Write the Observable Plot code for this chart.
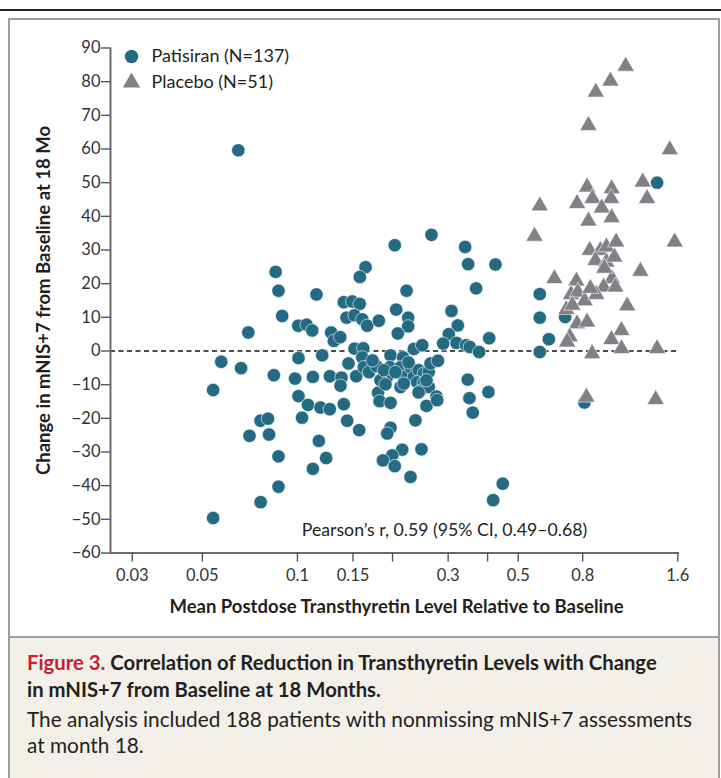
<!DOCTYPE html>
<html>
<head>
<meta charset="utf-8">
<script src="https://cdn.jsdelivr.net/npm/d3@7"></script>
<script src="https://cdn.jsdelivr.net/npm/@observablehq/plot@0.6"></script>
<style>
  html, body { margin: 0; padding: 0; background: #fff; }
  #wrap { position: relative; width: 721px; height: 778px; overflow: hidden; font-family: Lato, "Open Sans", sans-serif; color: #231f20; }
  #rule { position: absolute; left: 0; top: 9px; width: 721px; height: 2px; background: #231f20; }
  #box { position: absolute; left: 8px; top: 18px; width: 712px; height: 780px; border: 2px solid #9d9d9d; box-sizing: border-box; }
  #chart { position: absolute; left: 0; top: 0; }
  #caption { position: absolute; left: 10px; top: 636px; width: 708px; height: 150px; background: #f3f0ea; border-top: 2px solid #9d9d9d; box-sizing: border-box; padding: 11px 0 0 17px; }
  #caption .title { font-weight: 700; font-size: 20.3px; line-height: 26.5px; color: #231f20; }
  #caption .title .fig { color: #c8202f; }
  #caption .desc { font-size: 20.8px; line-height: 26px; margin-top: 4px; color: #231f20; }
</style>
</head>
<body>
<div id="wrap">
  <div id="rule"></div>
  <div id="box"></div>
  <div id="chart"></div>
  <div id="caption"></div>
</div>
<script>
// ---- Data ----
const seriesNames = ["Patisiran (N=137)", "Placebo (N=51)"];

// [mean postdose TTR relative to baseline, change in mNIS+7 at 18 mo]
const patisiranPoints = [
  [0.065,59.6],[0.0853,23.5],[0.0871,17.9],[0.0895,10.4],[0.0699,5.5],[0.1006,7.5],[0.1069,7.8],[0.1114,6.1],
  [0.0574,-3.2],[0.0663,-5.1],[0.0541,-11.6],[0.0842,-7.2],[0.1008,-2.1],[0.0983,-8.2],[0.1119,-7.7],[0.1008,-13.4],
  [0.108,-16.0],[0.0764,-20.7],[0.0807,-20.1],[0.1034,-19.8],[0.0705,-25.2],[0.0813,-24.8],[0.0871,-31.3],[0.0871,-40.3],
  [0.0765,-44.9],[0.0541,-49.6],
  [0.1149,16.8],[0.1198,-1.3],[0.1183,-16.8],[0.1266,-17.3],[0.1169,-26.7],[0.1233,-31.8],[0.1119,-35.0],[0.1402,-15.8],
  [0.1437,-20.7],[0.1569,-23.5],[0.1279,5.5],[0.1304,3.0],[0.1366,4.1],[0.1267,-7.5],[0.1379,-7.9],[0.1369,-10.3],[0.1535,-7.5],
  [0.1643,24.9],[0.1576,22.0],[0.1402,14.5],[0.1491,14.7],[0.1575,14.0],[0.143,9.9],[0.1516,10.6],[0.1604,9.4],
  [0.1663,7.5],[0.181,9.0],[0.1516,0.7],[0.1616,0.8],[0.1604,-1.9],[0.1623,-4.8],[0.1685,-6.3],[0.178,-4.5],
  [0.18,-12.4],[0.182,-14.9],[0.1971,-15.4],
  [0.2033,31.4],[0.2215,17.9],[0.2054,12.3],[0.2242,9.9],[0.2242,7.3],[0.2078,5.2],[0.2336,0.6],[0.2483,1.7],
  [0.1971,-1.3],[0.2159,-1.9],[0.1961,-4.8],[0.1921,-7.7],[0.1832,-8.7],[0.19,-9.9],[0.1877,-5.7],[0.212,-4.8],
  [0.2171,-7.7],[0.228,-4.8],[0.2336,-7.7],[0.2422,-5.7],[0.2512,-6.7],[0.2394,-9.3],[0.2512,-9.3],[0.2605,-6.2],
  [0.2638,-3.7],[0.2785,-2.9],[0.212,-10.7],[0.2452,-11.8],[0.2605,-10.7],[0.2755,-13.5],[0.2562,-16.3],[0.2364,-20.6],
  [0.1971,-22.8],[0.1924,-24.5],[0.2146,-29.3],[0.1995,-31.0],[0.1865,-32.5],[0.2033,-34.2],[0.247,-29.2],[0.228,-37.4],
  [0.2657,34.5],[0.3396,30.9],[0.3471,25.8],[0.4236,25.7],[0.3679,18.6],[0.3074,11.9],[0.3219,7.6],[0.3014,5.0],
  [0.2893,2.2],[0.3188,2.4],[0.3421,1.7],[0.3512,1.2],[0.376,-0.3],[0.4046,3.8],[0.3461,-8.5],[0.3504,-14.0],
  [0.4025,-12.2],[0.3589,-18.3],[0.2769,-14.6],[0.4467,-39.4],[0.4165,-44.3],
  [0.585,16.9],[0.585,9.9],[0.704,10.1],[0.625,3.5],[0.585,-0.3],[0.81,-15.3],[1.376,50.0],
  [0.2171,-9.7],[0.2043,-6.3],[0.2247,-3.4],[0.1729,-2.8],[0.2562,-8.7],[0.1451,-3.7],[0.2418,-12.3]
];

const placeboPoints = [
  [1.094,84.6],[0.979,80.2],[0.880,76.9],[0.834,67.0],[1.509,59.8],[1.239,50.2],[1.279,45.3],[0.826,48.7],
  [0.988,48.2],[0.768,43.8],[0.859,45.3],[0.984,45.3],[0.919,42.5],[0.834,38.6],[0.988,39.6],[0.585,43.1],
  [0.563,34.1],[1.564,32.4],[0.842,29.9],[0.910,29.9],[0.951,30.9],[1.021,32.4],[0.878,26.9],[0.951,26.4],
  [1.008,27.9],[1.218,23.7],[0.651,21.5],[0.764,20.8],[0.991,21.5],[0.932,19.0],[1.015,19.0],[0.735,16.8],
  [0.772,17.5],[0.812,14.9],[0.884,16.8],[0.710,12.3],[1.106,13.4],[0.768,8.1],[0.826,8.6],[0.728,4.2],
  [0.714,2.7],[1.061,6.1],[0.986,3.4],[0.857,-0.8],[1.062,0.7],[1.376,0.7],[0.822,-13.7],[1.362,-14.4],
  [0.937,24.6],[0.846,18.6],[0.742,13.6]
];

const xDomain = [0.0256, 1.62];
const yDomain = [-60, 90];
const xTickValues = [0.03, 0.05, 0.1, 0.15, 0.2, 0.3, 0.4, 0.5, 0.8, 1.6];
const xTickLabels = ["0.03", "0.05", "0.1", "0.15", "", "0.3", "", "0.5", "0.8", "1.6"];
const yTickValues = [-60, -50, -40, -30, -20, -10, 0, 10, 20, 30, 40, 50, 60, 70, 80, 90];

const xTitle = "Mean Postdose Transthyretin Level Relative to Baseline";
const yTitle = "Change in mNIS+7 from Baseline at 18 Mo";
const pearsonLabel = "Pearson\u2019s r, 0.59 (95% CI, 0.49\u20130.68)";
const captionFigure = "Figure 3.";
const captionTitle = ["Correlation of Reduction in Transthyretin Levels with Change", "in mNIS+7 from Baseline at 18 Months."];
const captionText = ["The analysis included 188 patients with nonmissing mNIS+7 assessments", "at month 18."];

// ---- Styles ----
const teal = "#236a82";
const gray = "#808186";
const ink = "#231f20";

const xTickRecords = xTickValues.map((v, i) => ({ v, label: xTickLabels[i] }));

const chart = Plot.plot({
  width: 721,
  height: 636,
  marginLeft: 110,
  marginRight: 42,
  marginTop: 47.5,
  marginBottom: 83.5,
  style: { fontFamily: "Lato, 'Open Sans', sans-serif", fontSize: "16.5px", color: ink, background: "transparent" },
  x: { type: "log", domain: xDomain, axis: null },
  y: { domain: yDomain },
  marks: [
    Plot.ruleY([0], { stroke: "#111", strokeWidth: 1.4, strokeDasharray: "5,3.5" }),
    Plot.ruleX([xDomain[0]], { stroke: "#6b6b6b", strokeWidth: 2 }),
    Plot.ruleY([yDomain[0]], { stroke: "#6b6b6b", strokeWidth: 2 }),
    Plot.axisY({ ticks: yTickValues, tickSize: 9, tickPadding: 1, label: null, stroke: "#555", strokeWidth: 1.4, fill: "#333", fontSize: 16.5 }),
    // x ticks (short downward strokes) and labels, from the tick arrays
    Plot.vector(xTickRecords, { x: "v", y: () => yDomain[0], length: 8, rotate: 180, anchor: "start", r: 0, stroke: "#555", strokeWidth: 1.4 }),
    Plot.text(xTickRecords, { x: "v", text: "label", frameAnchor: "bottom", dy: 23, textAnchor: "middle", lineAnchor: "middle", fill: "#333", fontSize: 16.5 }),
    Plot.dot(patisiranPoints, { x: d => d[0], y: d => d[1], r: 6.7, fill: teal, stroke: "white", strokeWidth: 0.6 }),
    Plot.dot(placeboPoints, { x: d => d[0], y: d => d[1], r: 6.4, symbol: "triangle", fill: gray, stroke: "white", strokeWidth: 0.6 }),
    // legend
    Plot.dot([seriesNames[0]], { frameAnchor: "top-left", dx: 21, dy: 8.5, r: 6.7, fill: teal }),
    Plot.dot([seriesNames[1]], { frameAnchor: "top-left", dx: 21, dy: 34.5, r: 6.4, symbol: "triangle", fill: gray }),
    Plot.text([seriesNames[0]], { text: d => d, frameAnchor: "top-left", dx: 41, dy: 8.5, textAnchor: "start", lineAnchor: "middle", fontSize: 18, fill: ink }),
    Plot.text([seriesNames[1]], { text: d => d, frameAnchor: "top-left", dx: 41, dy: 34.5, textAnchor: "start", lineAnchor: "middle", fontSize: 18, fill: ink }),
    // annotation
    Plot.text([pearsonLabel], { text: d => d, frameAnchor: "bottom", dx: 49.5, dy: -23, textAnchor: "middle", lineAnchor: "middle", fontSize: 17.7, fill: ink }),
    // axis titles
    Plot.text([xTitle], { text: d => d, frameAnchor: "bottom", dx: 1.5, dy: 54, textAnchor: "middle", lineAnchor: "middle", fontSize: 18.5, fontWeight: 700, fill: ink }),
    Plot.text([yTitle], { text: d => d, frameAnchor: "left", dx: -66, rotate: -90, textAnchor: "middle", lineAnchor: "middle", fontSize: 18.5, fontWeight: 700, fill: ink })
  ]
});
document.getElementById("chart").appendChild(chart);

const cap = document.getElementById("caption");
cap.innerHTML =
  `<div class="title"><span class="fig">${captionFigure}</span> ${captionTitle[0]}<br>${captionTitle[1]}</div>` +
  `<div class="desc">${captionText[0]}<br>${captionText[1]}</div>`;
</script>
</body>
</html>
